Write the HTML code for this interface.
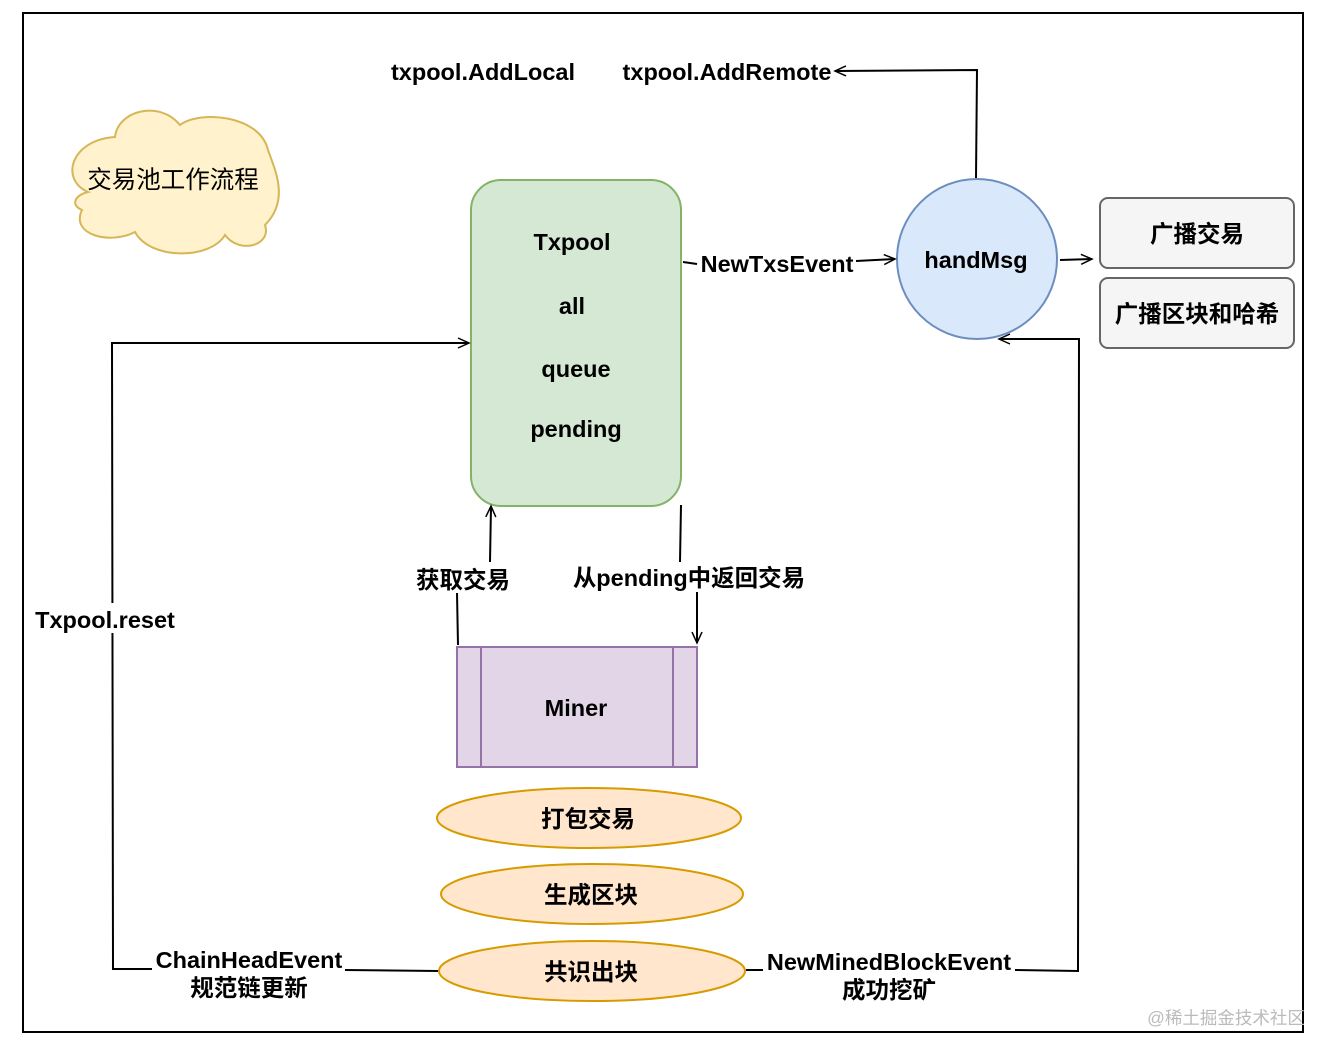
<!DOCTYPE html>
<html><head><meta charset="utf-8"><style>
html,body{margin:0;padding:0;background:#fff;}
svg{display:block;}
text{font-family:"Liberation Sans","Noto Sans CJK SC",sans-serif;font-weight:bold;font-size:23.5px;fill:#000;}
.n{font-weight:normal;}
</style></head><body>
<svg width="1334" height="1056" viewBox="0 0 1334 1056" xmlns="http://www.w3.org/2000/svg">
<defs>
<marker id="a" markerWidth="14" markerHeight="12" refX="12" refY="6" orient="auto" markerUnits="userSpaceOnUse">
<path d="M1,1 L12,6 L1,11 M1,6 L12,6" fill="none" stroke="#000" stroke-width="1.5"/>
</marker>
</defs>
<rect x="23" y="13" width="1280" height="1019" fill="#fff" stroke="#000" stroke-width="2"/>
<path d="M88,192 C60,180 70,140 115,137 C118,110 160,100 180,125 C200,110 260,115 268,150 C275,170 290,200 265,225 C272,245 240,255 225,235 C210,260 150,260 135,232 C110,245 70,235 82,210 C70,205 75,195 88,192 Z" fill="#fff2cc" stroke="#d6b656" stroke-width="2"/>
<text class="n" x="173" y="188" text-anchor="middle" style="font-size:24.5px">交易池工作流程</text>
<text x="483" y="80" text-anchor="middle">txpool.AddLocal</text>
<text x="727" y="80" text-anchor="middle">txpool.AddRemote</text>
<rect x="471" y="180" width="210" height="326" rx="30" fill="#d5e8d4" stroke="#82b366" stroke-width="2"/>
<text x="572" y="250" text-anchor="middle">Txpool</text>
<text x="572" y="314" text-anchor="middle">all</text>
<text x="576" y="377" text-anchor="middle">queue</text>
<text x="576" y="437" text-anchor="middle">pending</text>
<circle cx="977" cy="259" r="80" fill="#dae8fc" stroke="#6c8ebf" stroke-width="2"/>
<text x="976" y="268" text-anchor="middle">handMsg</text>
<rect x="1100" y="198" width="194" height="70" rx="8" fill="#f5f5f5" stroke="#666" stroke-width="2"/>
<text x="1197" y="242" text-anchor="middle">广播交易</text>
<rect x="1100" y="278" width="194" height="70" rx="8" fill="#f5f5f5" stroke="#666" stroke-width="2"/>
<text x="1197" y="322" text-anchor="middle">广播区块和哈希</text>
<rect x="457" y="647" width="240" height="120" fill="#e1d5e7" stroke="#9673a6" stroke-width="2"/>
<line x1="481" y1="647" x2="481" y2="767" stroke="#9673a6" stroke-width="2"/>
<line x1="673" y1="647" x2="673" y2="767" stroke="#9673a6" stroke-width="2"/>
<text x="576" y="716" text-anchor="middle">Miner</text>
<ellipse cx="589" cy="818" rx="152" ry="30" fill="#ffe6cc" stroke="#d79b00" stroke-width="2"/>
<text x="588" y="827" text-anchor="middle">打包交易</text>
<ellipse cx="592" cy="894" rx="151" ry="30" fill="#ffe6cc" stroke="#d79b00" stroke-width="2"/>
<text x="591" y="903" text-anchor="middle">生成区块</text>
<ellipse cx="592" cy="971" rx="153" ry="30" fill="#ffe6cc" stroke="#d79b00" stroke-width="2"/>
<text x="591" y="980" text-anchor="middle">共识出块</text>
<g fill="none" stroke="#000" stroke-width="2">
<path d="M976,178 L977,70 L835,71" marker-end="url(#a)"/>
<path d="M683,262 L697,264"/>
<path d="M856,261 L895,259" marker-end="url(#a)"/>
<path d="M1060,260 L1092,259" marker-end="url(#a)"/>
<path d="M458,645 L457,593"/>
<path d="M490,562 L491,506" marker-end="url(#a)"/>
<path d="M681,505 L680,562"/>
<path d="M697,592 L697,643" marker-end="url(#a)"/>
<path d="M438,971 L345,970"/>
<path d="M152,969 L113,969 L112,343 L469,343" marker-end="url(#a)"/>
<path d="M746,970 L763,970"/>
<path d="M1015,970 L1078,971 L1079,339 L999,339" marker-end="url(#a)"/>
</g>
<rect x="30" y="603" width="150" height="30" fill="#fff"/>
<text x="105" y="628" text-anchor="middle">Txpool.reset</text>
<text x="777" y="272" text-anchor="middle">NewTxsEvent</text>
<text x="463" y="588" text-anchor="middle">获取交易</text>
<text x="689" y="586" text-anchor="middle">从pending中返回交易</text>
<text x="249" y="968" text-anchor="middle">ChainHeadEvent</text>
<text x="249" y="996" text-anchor="middle">规范链更新</text>
<text x="889" y="970" text-anchor="middle">NewMinedBlockEvent</text>
<text x="889" y="998" text-anchor="middle">成功挖矿</text>
<text class="n" x="1226" y="1024" text-anchor="middle" style="font-size:17.5px;fill:#bbb">@稀土掘金技术社区</text>
</svg>
</body></html>
